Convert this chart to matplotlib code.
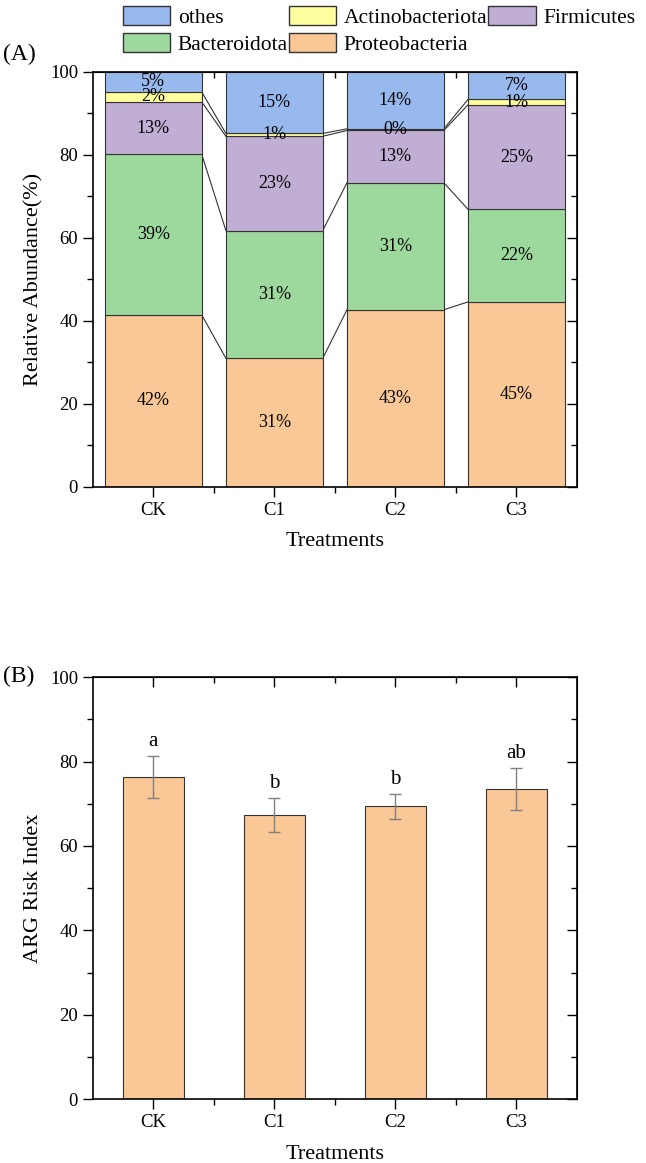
import numpy as np
import matplotlib
matplotlib.use('Agg')
import matplotlib.pyplot as plt
from matplotlib.patches import Patch
from matplotlib.ticker import MultipleLocator, FixedLocator

plt.rcParams['font.family'] = ['Liberation Serif', 'DejaVu Serif']

treatments = ['CK', 'C1', 'C2', 'C3']

# relative abundance (%)
proteobacteria = [41.5, 31.0, 42.7, 44.6]
bacteroidota = [38.7, 30.8, 30.6, 22.3]
firmicutes = [12.6, 22.7, 12.6, 25.2]
actinobacteriota = [2.4, 0.7, 0.4, 1.3]
othes = [4.8, 14.8, 13.7, 6.6]

# ARG risk index
risk_mean = [76.4, 67.4, 69.4, 73.4]
risk_err = [5.0, 4.0, 3.0, 5.0]
risk_letters = ['a', 'b', 'b', 'ab']

c_othes = '#98B9EE'
c_actino = '#FFFF9E'
c_firm = '#C1AED5'
c_bact = '#9DD99C'
c_prot = '#FAC896'
edge = '#333333'

fig = plt.figure(figsize=(6.46, 11.63), dpi=100)
axA = fig.add_axes([0.1435, 0.5813, 0.7497, 0.3568])
axB = fig.add_axes([0.1435, 0.0549, 0.7497, 0.3629])

x = np.arange(len(treatments))


def style_axes(ax):
    ax.set_xlim(-0.5, 3.5)
    ax.set_ylim(0, 100)
    ax.set_xticks(x)
    ax.set_xticklabels(treatments)
    ax.xaxis.set_minor_locator(FixedLocator([0.5, 1.5, 2.5]))
    ax.yaxis.set_major_locator(MultipleLocator(20))
    ax.yaxis.set_minor_locator(MultipleLocator(10))
    ax.tick_params(which='major', direction='out', length=7, width=1, labelsize=13.5)
    ax.tick_params(which='minor', direction='out', length=4, width=1)
    for sp in ax.spines.values():
        sp.set_linewidth(1.2)
    # mirrored ticks pointing inward on top and right
    top = ax.secondary_xaxis('top')
    top.set_xticks(x)
    top.xaxis.set_minor_locator(FixedLocator([0.5, 1.5, 2.5]))
    top.tick_params(which='major', direction='in', length=7, width=1, labeltop=False)
    top.tick_params(which='minor', direction='in', length=4, width=1)
    right = ax.secondary_yaxis('right')
    right.yaxis.set_major_locator(MultipleLocator(20))
    right.yaxis.set_minor_locator(MultipleLocator(10))
    right.tick_params(which='major', direction='in', length=7, width=1, labelright=False)
    right.tick_params(which='minor', direction='in', length=4, width=1)
    ax.set_xlabel('Treatments', fontsize=16, labelpad=10)


# ---- panel A: stacked bars
w = 0.8
layers = [proteobacteria, bacteroidota, firmicutes, actinobacteriota, othes]
colors = [c_prot, c_bact, c_firm, c_actino, c_othes]
bottom = np.zeros(len(treatments))
for vals, col in zip(layers, colors):
    vals = np.array(vals)
    axA.bar(x, vals, width=w, bottom=bottom, color=col, edgecolor=edge, linewidth=0.8, zorder=2)
    for i in range(len(x)):
        axA.text(x[i], bottom[i] + vals[i] / 2, f'{round(vals[i])}%', ha='center', va='center',
                 fontsize=13, zorder=4)
    bottom = bottom + vals
    if not np.allclose(bottom, 100):
        for i in range(len(x) - 1):
            axA.plot([x[i] + w / 2, x[i + 1] - w / 2], [bottom[i], bottom[i + 1]],
                     color=edge, linewidth=0.8, zorder=1)

style_axes(axA)
axA.set_ylabel('Relative Abundance(%)', fontsize=16, labelpad=5)

handles = [Patch(facecolor=c_othes, edgecolor=edge, label='othes'),
           Patch(facecolor=c_bact, edgecolor=edge, label='Bacteroidota'),
           Patch(facecolor=c_actino, edgecolor=edge, label='Actinobacteriota'),
           Patch(facecolor=c_prot, edgecolor=edge, label='Proteobacteria'),
           Patch(facecolor=c_firm, edgecolor=edge, label='Firmicutes')]
fig.legend(handles=handles, ncol=3, loc='upper left', bbox_to_anchor=(0.19, 0.995),
           frameon=False, fontsize=15.5, handlelength=2.2, handleheight=1.0,
           handletextpad=0.35, columnspacing=0.05, labelspacing=0.22, borderpad=0,
           borderaxespad=0)

# ---- panel B: risk index
axB.bar(x, risk_mean, width=0.5, color=c_prot, edgecolor=edge, linewidth=0.8, zorder=2)
axB.errorbar(x, risk_mean, yerr=risk_err, fmt='none', ecolor='#808080', elinewidth=1,
             capsize=4, capthick=1, zorder=3)
for i in range(len(x)):
    axB.text(x[i], risk_mean[i] + risk_err[i] + 1.2, risk_letters[i], ha='center',
             va='bottom', fontsize=15)
style_axes(axB)
axB.set_ylabel('ARG Risk Index', fontsize=16, labelpad=5)

fig.text(0.005, 0.953, '(A)', fontsize=17, va='center', ha='left')
fig.text(0.005, 0.418, '(B)', fontsize=17, va='center', ha='left')

fig.savefig('out.png', dpi=100)
